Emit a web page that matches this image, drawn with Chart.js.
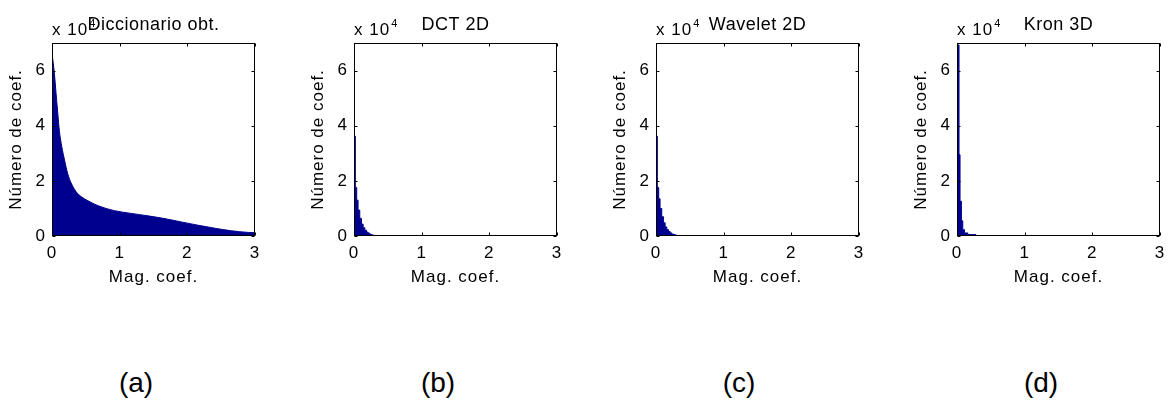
<!DOCTYPE html>
<html>
<head>
<meta charset="utf-8">
<script src="https://cdn.jsdelivr.net/npm/chart.js@4"></script>
<style>
  body { margin: 0; background: #fff; width: 1171px; height: 403px; position: relative; overflow: hidden; font-family: "Liberation Sans", Arial, sans-serif; }
  .panel { position: absolute; top: 0; width: 270px; height: 300px; }
  .tag { position: absolute; top: 365px; width: 100px; text-align: center; font-size: 28px; line-height: 36px; color: #000; }
</style>
</head>
<body>
<div class="panel" style="left:0px"><canvas id="chartA"></canvas></div>
<div class="panel" style="left:302px"><canvas id="chartB"></canvas></div>
<div class="panel" style="left:604px"><canvas id="chartC"></canvas></div>
<div class="panel" style="left:905px"><canvas id="chartD"></canvas></div>
<div class="tag" style="left:86px">(a)</div>
<div class="tag" style="left:388px">(b)</div>
<div class="tag" style="left:689px">(c)</div>
<div class="tag" style="left:991px">(d)</div>
<script>
// counts are in units of 10^4
const titles = ["Diccionario obt.", "DCT 2D", "Wavelet 2D", "Kron 3D"];
const xTickVals = [0, 1, 2, 3];
const yTickVals = [0, 2, 4, 6];

const magA = [0, 0.035, 0.06, 0.085, 0.11, 0.145, 0.185, 0.23, 0.28, 0.355, 0.43, 0.53, 0.68, 0.92, 1.17, 1.42, 1.67, 1.91, 2.16, 2.41, 2.65, 2.9, 3.0];
const countA = [6.63, 5.9, 5.18, 4.46, 3.79, 3.24, 2.76, 2.28, 1.94, 1.61, 1.43, 1.28, 1.10, 0.92, 0.82, 0.73, 0.63, 0.51, 0.39, 0.28, 0.19, 0.13, 0.12];

// bin start edges and heights; last entry closes the histogram
const magB = [0, 0.02, 0.04, 0.06, 0.085, 0.11, 0.135, 0.16, 0.185, 0.21, 0.235, 0.26, 0.285, 0.32];
const countB = [3.62, 1.76, 1.30, 0.94, 0.64, 0.43, 0.30, 0.21, 0.14, 0.10, 0.06, 0.04, 0.02, 0];

const magC = [0, 0.02, 0.04, 0.06, 0.085, 0.11, 0.135, 0.16, 0.185, 0.21, 0.235, 0.26, 0.285, 0.31, 0.345];
const countC = [3.62, 1.76, 1.35, 1.0, 0.70, 0.48, 0.33, 0.23, 0.16, 0.11, 0.07, 0.05, 0.03, 0.01, 0];

const magD = [0, 0.03, 0.045, 0.065, 0.085, 0.11, 0.16, 0.28];
const countD = [6.93, 2.95, 1.26, 0.55, 0.23, 0.11, 0.05, 0];

const FONT = "'Liberation Sans', Arial, sans-serif";
const BLUE = "#00008f";

// MATLAB-like box, inward ticks, title and exponent label
const matlabAxes = {
  id: "matlabAxes",
  beforeLayout(chart) { chart.ctx.letterSpacing = "1px"; },
  beforeDraw(chart) { chart.ctx.letterSpacing = "1px"; },
  afterDraw(chart, args, opts) {
    const ctx = chart.ctx;
    const a = chart.chartArea;
    const xs = chart.scales.x, ys = chart.scales.y;
    const L = Math.round(a.left) + 0.5, R = Math.round(a.right) - 0.5;
    const T = Math.round(a.top) + 0.5, B = Math.round(a.bottom) - 0.5;
    ctx.save();
    ctx.strokeStyle = "#000";
    ctx.lineWidth = 1;
    ctx.strokeRect(L, T, R - L, B - T);
    ctx.beginPath();
    xs.ticks.forEach(t => {
      const px = Math.round(xs.getPixelForValue(t.value)) + 0.5;
      ctx.moveTo(px, B); ctx.lineTo(px, B - 3);
      ctx.moveTo(px, T); ctx.lineTo(px, T + 3);
    });
    ys.ticks.forEach(t => {
      const py = Math.round(ys.getPixelForValue(t.value)) + 0.5;
      ctx.moveTo(L, py); ctx.lineTo(L + 3, py);
      ctx.moveTo(R, py); ctx.lineTo(R - 3, py);
    });
    ctx.stroke();

    ctx.fillStyle = "#000";
    ctx.textBaseline = "alphabetic";
    ctx.textAlign = "left";
    ctx.letterSpacing = "1px";
    ctx.font = "17px " + FONT;
    ctx.fillText("x 10", a.left, 35);
    const w = ctx.measureText("x 10").width;
    ctx.font = "11px " + FONT;
    ctx.fillText("4", a.left + w + 1, 27);

    ctx.letterSpacing = "0.5px";
    ctx.font = "18px " + FONT;
    ctx.textAlign = "center";
    ctx.fillText(opts.title, (a.left + a.right) / 2, 30);
    ctx.restore();
  }
};

function makeChart(id, title, mags, counts, stepped) {
  const pts = mags.map((m, i) => ({ x: m, y: counts[i] }));
  return new Chart(document.getElementById(id), {
    type: "line",
    data: {
      datasets: [{
        data: pts,
        borderColor: BLUE,
        backgroundColor: BLUE,
        borderWidth: 1,
        pointRadius: 0,
        fill: "origin",
        stepped: stepped ? "before" : false,
        cubicInterpolationMode: stepped ? "default" : "monotone",
        tension: stepped ? 0 : 0.4
      }]
    },
    options: {
      responsive: true,
      maintainAspectRatio: false,
      animation: false,
      layout: { padding: { top: 43, right: 15, left: 0, bottom: 0 } },
      plugins: {
        legend: { display: false },
        tooltip: { enabled: false },
        matlabAxes: { title: title }
      },
      scales: {
        x: {
          type: "linear",
          min: 0,
          max: 3,
          afterBuildTicks: s => { s.ticks = xTickVals.map(v => ({ value: v })); },
          afterFit: s => { s.height = 64; },
          grid: { display: false, drawTicks: false },
          border: { display: false },
          ticks: { color: "#000", padding: 7, font: { family: FONT, size: 17 } },
          title: { display: true, text: "Mag. coef.", color: "#000", padding: { top: 0, bottom: 12 }, font: { family: FONT, size: 17 } }
        },
        y: {
          min: 0,
          max: 7,
          afterBuildTicks: s => { s.ticks = yTickVals.map(v => ({ value: v })); },
          afterFit: s => { s.width = 52; },
          grid: { display: false, drawTicks: false },
          border: { display: false },
          ticks: { color: "#000", padding: 6, font: { family: FONT, size: 17 } },
          title: { display: true, text: "Número de coef.", color: "#000", padding: { top: 6, bottom: 0 }, font: { family: FONT, size: 17 } }
        }
      }
    },
    plugins: [matlabAxes]
  });
}

makeChart("chartA", titles[0], magA, countA, false);
makeChart("chartB", titles[1], magB, countB, true);
makeChart("chartC", titles[2], magC, countC, true);
makeChart("chartD", titles[3], magD, countD, true);
</script>
</body>
</html>
